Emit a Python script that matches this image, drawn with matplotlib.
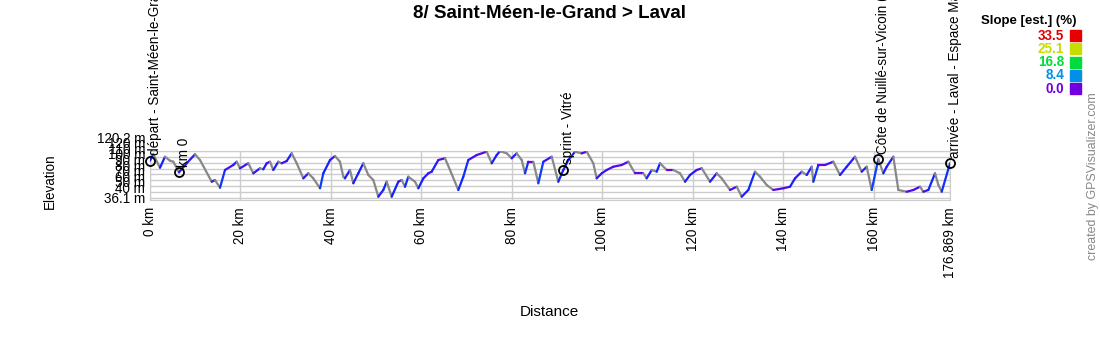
import numpy as np
import matplotlib
matplotlib.use('Agg')
import matplotlib.pyplot as plt
import matplotlib.transforms as mtransforms
from matplotlib.collections import LineCollection
from matplotlib.colors import LinearSegmentedColormap, Normalize

plt.rcParams['font.family'] = ['Liberation Sans', 'DejaVu Sans']

# profile (km, m)
dist_km = [0.0, 0.73, 2.21, 3.32, 4.42, 5.15, 6.41, 8.11, 9.95, 11.06,
           13.64, 14.37, 15.48, 16.58, 18.42, 19.17, 19.9, 21.73, 22.84, 24.32,
           25.05, 25.8, 26.53, 27.26, 28.37, 29.12, 30.22, 31.33, 32.44, 33.9,
           35.0, 36.1, 37.59, 38.32, 39.8, 40.9, 42.0, 42.74, 43.1, 44.2,
           44.95, 46.05, 47.16, 48.27, 49.37, 50.48, 51.58, 52.33, 53.44, 54.9,
           55.65, 56.38, 57.11, 58.59, 59.32, 60.43, 61.53, 62.28, 63.74, 65.22,
           66.33, 68.16, 69.27, 70.37, 72.23, 74.44, 75.55, 76.65, 77.38, 78.86,
           79.97, 81.07, 82.18, 82.91, 83.64, 84.75, 85.85, 86.96, 88.81, 90.27,
           91.38, 92.48, 93.97, 95.45, 96.55, 98.01, 98.76, 99.87, 100.97, 102.43,
           104.29, 105.75, 107.23, 109.07, 109.8, 110.92, 112.02, 112.76, 114.24, 115.7,
           117.18, 118.29, 119.39, 120.87, 121.98, 123.82, 125.29, 126.4, 128.24, 129.71,
           130.82, 132.28, 133.76, 134.87, 136.35, 137.81, 140.02, 141.5, 142.61, 144.09,
           145.19, 146.3, 146.65, 147.76, 149.24, 151.07, 152.55, 154.03, 155.87, 157.35,
           158.45, 159.56, 161.02, 162.13, 162.87, 164.34, 165.45, 167.3, 168.77, 170.24,
           170.98, 172.08, 173.56, 174.3, 175.04, 176.869]
elev_m = [103.5, 114.5, 91.5, 110.4, 103.5, 101.8, 83.6, 99.1, 114.5, 104.7,
          67.5, 70.4, 57.2, 87.6, 96.2, 101.8, 90.5, 99.1, 81.9, 90.5,
          88.8, 99.1, 101.8, 87.6, 101.8, 99.1, 103.0, 116.2, 99.1, 73.3,
          81.9, 73.3, 56.2, 81.9, 104.7, 111.6, 101.8, 76.1, 73.3, 87.6,
          64.8, 81.9, 99.1, 79.0, 70.4, 41.8, 53.3, 67.5, 41.8, 67.5,
          70.4, 58.9, 76.1, 67.5, 56.2, 73.3, 81.9, 84.7, 104.7, 107.7,
          87.6, 53.3, 76.1, 104.7, 113.3, 119.0, 99.1, 113.3, 119.8, 116.2,
          107.7, 116.2, 104.7, 81.9, 101.8, 101.8, 64.8, 101.8, 110.4, 67.5,
          87.6, 104.7, 119.0, 116.2, 119.0, 99.1, 73.3, 81.9, 87.6, 93.2,
          96.2, 101.8, 81.9, 81.9, 73.3, 87.6, 84.7, 99.1, 87.6, 87.6,
          81.9, 67.5, 79.0, 87.6, 90.5, 67.5, 81.9, 73.3, 53.3, 58.9,
          41.8, 53.3, 84.7, 76.1, 61.8, 53.3, 56.2, 58.9, 73.3, 84.7,
          79.0, 93.2, 67.5, 96.2, 96.2, 101.8, 79.0, 93.2, 110.4, 84.7,
          93.2, 53.3, 105.9, 81.9, 93.2, 110.4, 53.3, 50.3, 53.3, 58.9,
          50.3, 53.3, 81.9, 61.8, 50.3, 99.1]

wpt_names = ['départ - Saint-Méen-le-Grand', 'km 0', 'sprint - Vitré',
             'Côte de Nuillé-sur-Vicoin (4)', 'arrivée - Laval - Espace Mayenne']
wpt_km = [0.0, 6.41, 91.38, 161.02, 176.869]
wpt_elev = [103.5, 83.6, 87.6, 105.9, 99.1]

slope_levels = [33.5, 25.1, 16.8, 8.4, 0.0]
slope_colors = ['#e60000', '#c8dc00', '#00dc3c', '#0090e8', '#7000e0']

x_ticks = [0, 20, 40, 60, 80, 100, 120, 140, 160, 176.869]
x_labels = ['0 km', '20 km', '40 km', '60 km', '80 km', '100 km', '120 km',
            '140 km', '160 km', '176.869 km']
y_min, y_max = 36.1, 120.2
y_grid = [40, 50, 60, 70, 80, 90, 100, 110, 120]

fig = plt.figure(figsize=(11, 3.5), dpi=100)
ax = fig.add_axes([150 / 1100, 150 / 350, 800 / 1100, 49 / 350])
ax.set_xlim(0, 176.869)
ax.set_ylim(y_min, y_max)

# slope coloured profile, descents grey
d = np.array(dist_km)
e = np.array(elev_m)
pts = np.column_stack([d, e]).reshape(-1, 1, 2)
segs = np.concatenate([pts[:-1], pts[1:]], axis=1)
slope = np.diff(e) / (np.diff(d) * 1000) * 100
cmap = LinearSegmentedColormap.from_list(
    'slope', [(0, '#6a00e8'), (0.015, '#2a18ff'), (0.05, '#1022ff'),
              (0.25, '#0090e8'), (0.5, '#00dc3c'), (0.75, '#c8dc00'),
              (1, '#e60000')])
norm = Normalize(0, 33.5)
cols = [cmap(norm(s)) if s >= 0 else '#888888' for s in slope]
ax.add_collection(LineCollection(segs, colors=cols, linewidths=1.6,
                                 capstyle='round', zorder=3))

ax.plot(wpt_km, wpt_elev, 'o', ms=6.5, mfc='none', mec='black', mew=1.3,
        zorder=4, clip_on=False)
for name, x, y in zip(wpt_names, wpt_km, wpt_elev):
    ax.annotate(name, (x, y), xytext=(3.5, 4), textcoords='offset points',
                rotation=90, ha='center', va='bottom', fontsize=9.75,
                annotation_clip=False)

ax.set_yticks(y_grid)
ax.set_xticks(x_ticks)
ax.set_xticklabels(x_labels, rotation=90, fontsize=9.75, va='top')
ax.grid(True, color='#cccccc', lw=1)
ax.set_axisbelow(True)
ax.tick_params(axis='both', length=0)
ax.tick_params(axis='x', pad=5)
ax.tick_params(axis='y', labelleft=False)
for sp in ax.spines.values():
    sp.set_color('#cccccc')

# y labels, squeezed like in the original
trans = mtransforms.blended_transform_factory(ax.transAxes, ax.transData)
ax.text(-0.006, 140.8, '120.2 m', transform=trans, ha='right', va='center',
        fontsize=9.75, clip_on=False)
for v in y_grid:
    ax.text(-0.006, 16.5 + 0.9625 * v, f'{v} m', transform=trans, ha='right',
            va='center', fontsize=9.75, clip_on=False)
ax.text(-0.006, 37.8, '36.1 m', transform=trans, ha='right', va='center',
        fontsize=9.75, clip_on=False)

fig.text(549.5 / 1100, 1 - 13 / 350, '8/ Saint-Méen-le-Grand > Laval',
         ha='center', va='center', fontsize=13.5, fontweight='bold')
fig.text(549.5 / 1100, 1 - 312 / 350, 'Distance', ha='center', va='center',
         fontsize=11)
fig.text(50 / 1100, 1 - 181 / 350, 'Elevation', ha='center', va='center',
         rotation=90, fontsize=9.75)
fig.text(1093 / 1100, 1 - 176 / 350, 'created by GPSVisualizer.com',
         ha='center', va='center', rotation=90, fontsize=8.9, color='#888888')

# slope legend
fig.text(1029 / 1100, 1 - 21 / 350, 'Slope [est.] (%)', ha='center',
         va='center', fontsize=9.5, fontweight='bold')
for i, (lv, c) in enumerate(zip(slope_levels, slope_colors)):
    yc = 1 - (35.5 + i * 13.3) / 350
    fig.text(1064 / 1100, yc, f'{lv:.1f}', ha='right', va='center',
             fontsize=9.75, fontweight='bold', color=c)
    fig.patches.append(plt.Rectangle((1070 / 1100, yc - 5.5 / 350),
                                     11 / 1100, 11 / 350, color=c,
                                     transform=fig.transFigure, figure=fig))

fig.savefig('out.png', dpi=100)
